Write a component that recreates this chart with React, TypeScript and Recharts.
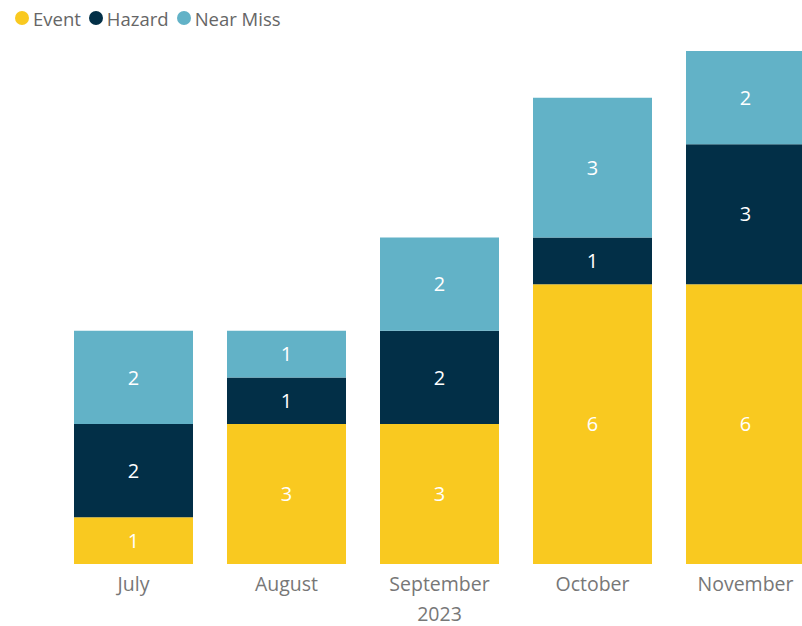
import { BarChart, Bar, XAxis, YAxis, Legend, LabelList } from "recharts";

const months = ["July", "August", "September", "October", "November"];
const years = ["", "", "2023", "", ""];
const eventCounts = [1, 3, 3, 6, 6];
const hazardCounts = [2, 1, 2, 1, 3];
const nearMissCounts = [2, 1, 2, 3, 2];

const seriesNames = ["Event", "Hazard", "Near Miss"];
const seriesColors = ["#F9C920", "#022F47", "#62B2C7"];

const data = months.map((month, i) => ({
    month,
    year: years[i],
    Event: eventCounts[i],
    Hazard: hazardCounts[i],
    "Near Miss": nearMissCounts[i],
}));

const FONT = "'Segoe UI', 'Open Sans', 'Noto Sans', sans-serif";

function MonthTick(props: any) {
    const { x, y, payload, index } = props;
    const year = years[index];
    return (
        <g transform={`translate(${x},${y})`}>
            <text x={0} y={0} dy={19} textAnchor="middle" fill="#777" fontSize={19.5} fontFamily={FONT}>
                {payload.value}
            </text>
            {year && (
                <text x={0} y={30} dy={19} textAnchor="middle" fill="#777" fontSize={19.5} fontFamily={FONT}>
                    {year}
                </text>
            )}
        </g>
    );
}

function LegendContent() {
    return (
        <div style={{ display: "flex", alignItems: "center", height: 30, fontFamily: FONT, fontSize: 18.5, color: "#666" }}>
            {seriesNames.map((name, i) => (
                <span key={name} style={{ display: "flex", alignItems: "center", marginRight: 8 }}>
                    <span style={{ width: 14, height: 14, borderRadius: 7, background: seriesColors[i], marginRight: 4, display: "inline-block" }} />
                    {name}
                </span>
            ))}
        </div>
    );
}

export default function App() {
    return (
        <div style={{ position: "absolute", left: 0, top: 0, width: 802, height: 626, overflow: "hidden", background: "#fff" }}>
            <BarChart
                width={822}
                height={626}
                data={data}
                margin={{ top: 21, right: 0, left: 57, bottom: 2 }}
            >
                <Legend
                    verticalAlign="top"
                    align="left"
                    content={<LegendContent />}
                    wrapperStyle={{ top: 3, left: 15 }}
                />
                <XAxis dataKey="month" height={60} axisLine={false} tickLine={false} tick={<MonthTick />} interval={0} />
                <YAxis hide domain={[0, 11]} />
                {seriesNames.map((name, i) => (
                    <Bar key={name} dataKey={name} stackId="a" fill={seriesColors[i]} barSize={119} isAnimationActive={false}>
                        <LabelList dataKey={name} position="center" fill="#fff" fontSize={20} fontFamily={FONT} />
                    </Bar>
                ))}
            </BarChart>
        </div>
    );
}
